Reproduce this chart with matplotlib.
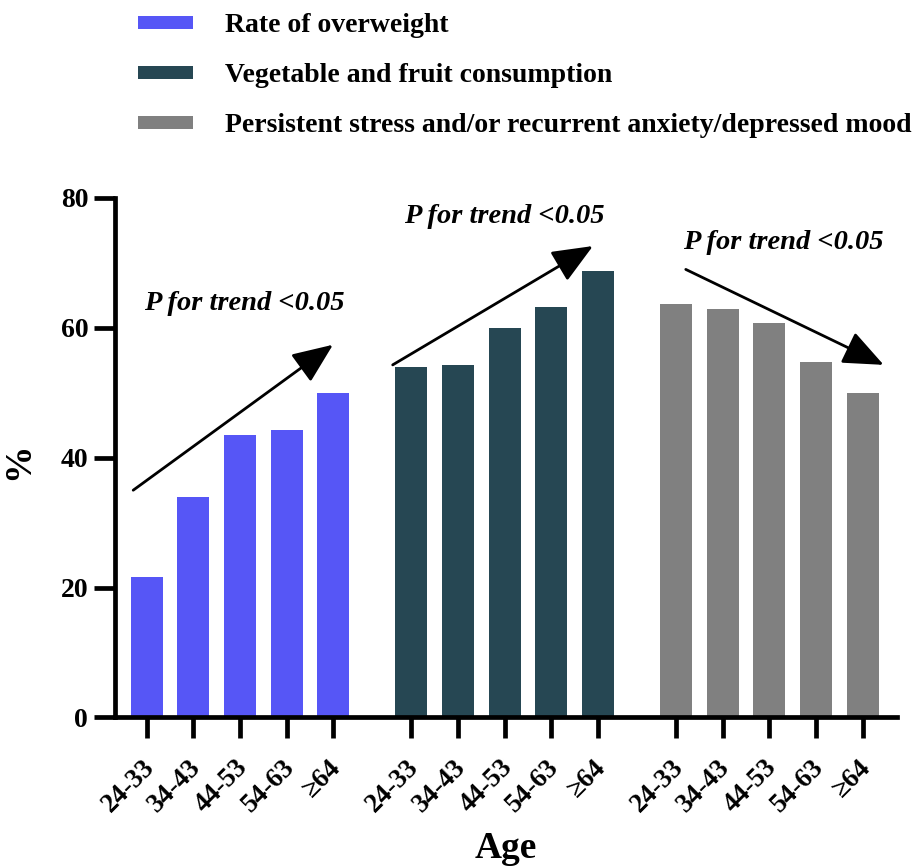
import numpy as np
import matplotlib.pyplot as plt
from matplotlib.transforms import ScaledTranslation

plt.rcParams['font.family'] = ['Liberation Serif', 'DejaVu Serif']
plt.rcParams['font.weight'] = 'bold'

# Data
ages = ["24-33", "34-43", "44-53", "54-63", "≥64"]
overweight = [21.7, 33.9, 43.5, 44.2, 50.0]
veg_fruit = [53.9, 54.3, 60.0, 63.2, 68.8]
stress = [63.7, 62.9, 60.8, 54.8, 50.0]

series = [
    ("Rate of overweight", overweight, "#5656F6"),
    ("Vegetable and fruit consumption", veg_fruit, "#264753"),
    ("Persistent stress and/or recurrent anxiety/depressed mood", stress, "#808080"),
]

fig = plt.figure(figsize=(9.17, 8.68), dpi=100)
ax = fig.add_axes([0.1249, 0.1734, 0.853, 0.5985])

group_gap = 1.67
n = len(ages)
xticks = []
xlabels = []
handles = []
for g, (name, vals, col) in enumerate(series):
    pos = g * (n - 1 + group_gap) + np.arange(n)
    b = ax.bar(pos, vals, width=0.685, color=col, label=name)
    handles.append(b)
    xticks.extend(pos)
    xlabels.extend(ages)

ax.set_ylim(0, 80)
ax.set_xlim(-0.69, xticks[-1] + 0.73)
ax.set_yticks([0, 20, 40, 60, 80])
ax.set_xticks(xticks)
ax.set_xticklabels(xlabels, rotation=45, ha='right', rotation_mode='anchor',
                   fontsize=19.5)
ax.tick_params(axis='y', labelsize=20, length=15, width=3.4, pad=4)
ax.tick_params(axis='x', length=15, width=3.4, pad=12)
shift = ScaledTranslation(-5 / 100, 0, fig.dpi_scale_trans)
for lab in ax.get_xticklabels():
    lab.set_transform(lab.get_transform() + shift)
for s in ['top', 'right']:
    ax.spines[s].set_visible(False)
for s in ['left', 'bottom']:
    ax.spines[s].set_linewidth(3.4)

ax.set_ylabel("%", fontsize=27, fontweight='bold')
ax.yaxis.set_label_coords(-0.1003, 0.494)
ax.set_xlabel("Age", fontsize=27, fontweight='bold', va='center')
ax.xaxis.set_label_coords(0.5, -0.253)

# trend arrows and labels
arrows = [((-0.29, 35.0), (3.99, 57.4)),
          ((5.27, 54.3), (9.56, 72.6)),
          ((11.55, 69.0), (15.79, 54.3))]
labels_pos = [(2.1, 63.8), (7.65, 77.2), (13.63, 73.1)]
for (start, tip), tp in zip(arrows, labels_pos):
    ax.annotate("", xy=tip, xytext=start, annotation_clip=False,
                arrowprops=dict(arrowstyle='-|>,head_length=1.0,head_width=0.42',
                                mutation_scale=25, lw=2, color='black',
                                shrinkA=0, shrinkB=0))
    ax.text(tp[0], tp[1], "P for trend <0.05", ha='center', va='center',
            fontsize=20.5, style='italic', fontweight='bold', clip_on=False)

fig.legend(handles=handles, loc='upper left', bbox_to_anchor=(0.151, 0.9847),
           frameon=False, fontsize=20, handlelength=1.97, handleheight=0.36,
           handletextpad=1.15, labelspacing=0.9, borderpad=0, borderaxespad=0)

fig.savefig("out.png", dpi=100)
